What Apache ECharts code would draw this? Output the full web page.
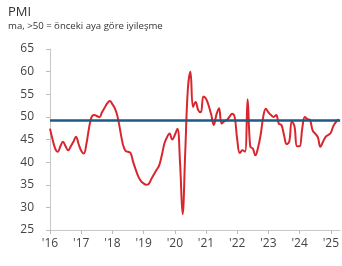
<!DOCTYPE html>
<html>
<head>
<meta charset="utf-8">
<script src="https://cdn.jsdelivr.net/npm/echarts@6/dist/echarts.min.js"></script>
<style>
  html, body { margin: 0; padding: 0; background: #fff; }
  #chart { width: 342px; height: 266px; }
</style>
</head>
<body>
<div id="chart"></div>
<script>
// monthly values, Jan 2016 .. Apr 2025
const startYear = 2016;
const pmi = [
  47.4, 45.0, 43.0, 42.3, 43.5, 44.5, 43.5, 42.6, 43.5, 44.5, 45.6, 44.0, // 2016
  42.5, 41.9, 44.0, 47.5, 50.0, 50.4, 50.2, 49.9, 51.0, 52.0, 53.0, 53.5, // 2017
  52.8, 51.8, 50.0, 47.0, 44.0, 42.5, 42.3, 42.0, 40.0, 38.3, 36.8, 35.8, // 2018
  35.3, 35.0, 35.2, 36.3, 37.3, 38.3, 39.3, 41.5, 44.1, 45.5, 46.3, 45.0, // 2019
  46.0, 47.4, 40.0, 28.5, 42.0, 56.0, 60.0, 52.2, 53.3, 51.5, 51.0, 54.5, // 2020
  54.0, 52.5, 50.5, 48.2, 50.5, 51.9, 48.5, 49.0, 49.3, 50.0, 50.7, 50.0, // 2021
  45.0, 42.0, 42.6, 42.3, 53.9, 43.5, 43.0, 41.5, 43.2, 46.0, 50.0, 51.8, // 2022
  51.0, 50.4, 50.0, 50.4, 48.5, 48.2, 46.0, 44.0, 44.5, 49.0, 48.0, 43.5, // 2023
  43.5, 47.4, 50.0, 49.5, 49.3, 47.0, 46.3, 45.5, 43.4, 44.5, 45.6, 46.0, // 2024
  46.5, 48.0, 48.9, 49.5                                                  // 2025
];
const thresholdLine = 49.3;
const yTicks = [25, 30, 35, 40, 45, 50, 55, 60, 65];
const yearLabels = ["'16", "'17", "'18", "'19", "'20", "'21", "'22", "'23", "'24", "'25"];

const points = pmi.map((v, i) => [startYear + i / 12, v]);

const chart = echarts.init(document.getElementById('chart'), null, { renderer: 'canvas' });
const font = '"Open Sans", "Noto Sans", sans-serif';

chart.setOption({
  animation: false,
  textStyle: { fontFamily: font },
  title: {
    text: 'PMI',
    subtext: 'ma, >50 = önceki aya göre iyileşme',
    left: 3,
    top: 1,
    itemGap: 2,
    textStyle: { fontSize: 13, fontWeight: 'normal', color: '#333', fontFamily: font },
    subtextStyle: { fontSize: 9.6, color: '#333', fontFamily: font }
  },
  grid: { left: 50, right: 0, top: 49, bottom: 36 },
  xAxis: {
    type: 'value',
    min: startYear,
    max: 2025.3,
    interval: 1,
    splitLine: { show: false },
    axisLine: { lineStyle: { color: '#c8c8c8' } },
    axisTick: { length: 4, lineStyle: { color: '#bbb' } },
    axisLabel: {
      color: '#444', fontSize: 12, margin: 8, showMaxLabel: false,
      formatter: v => yearLabels[Math.round(v) - startYear] || ''
    }
  },
  yAxis: {
    type: 'value',
    min: yTicks[0],
    max: yTicks[yTicks.length - 1],
    interval: 5,
    splitLine: { show: false },
    axisLine: { show: true, lineStyle: { color: '#c8c8c8' } },
    axisTick: { show: true, length: 4, lineStyle: { color: '#bbb' } },
    axisLabel: { color: '#444', fontSize: 12, margin: 16 }
  },
  series: [{
    type: 'line',
    data: points,
    smooth: 0.4,
    symbol: 'none',
    lineStyle: { color: '#d9262e', width: 2 },
    markLine: {
      silent: true,
      symbol: 'none',
      label: { show: false },
      lineStyle: { color: '#1d5a85', width: 2.5, type: 'solid' },
      data: [{ yAxis: thresholdLine }]
    },
    z: 2
  }]
});
</script>
</body>
</html>
